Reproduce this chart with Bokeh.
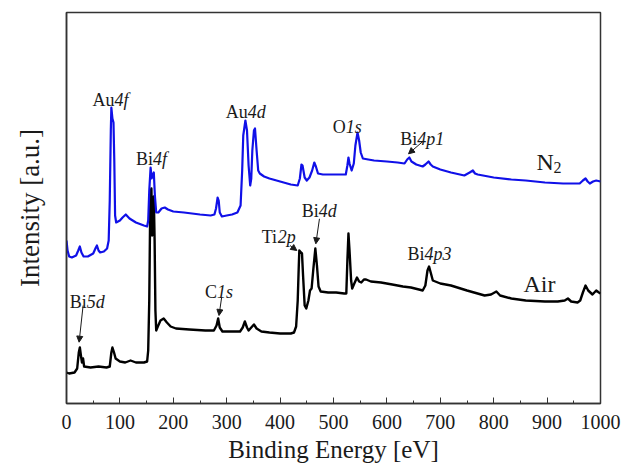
from bokeh.plotting import figure
from bokeh.models import Range1d, Label, Arrow, NormalHead, SingleIntervalTicker, FixedTicker
from bokeh.embed import file_html
from bokeh.resources import INLINE

# XPS survey spectra: binding energy (eV) and intensity (a.u.)
air_energy = [0, 5, 15, 20, 23, 25, 27, 29, 31, 33, 45, 60, 75, 81, 84, 86, 89, 92, 100, 110,
              120, 130, 145, 151, 153, 155, 157, 159, 160.5, 162, 163.5, 165, 166.5, 168, 171,
              176, 182, 188, 195, 205, 230, 260, 276, 281, 284, 287, 292, 310, 325, 330, 334,
              338, 341, 346, 351, 356, 365, 380, 400, 420, 426, 430, 433, 435, 436, 439, 441,
              443, 446, 449, 453, 456, 459, 462, 466, 469, 472, 476, 490, 505, 520, 524, 526,
              528, 530, 533, 535, 539, 544, 548, 552, 557, 561, 570, 589, 610, 630, 645, 660,
              667, 672, 676, 679, 682, 686, 700, 720, 750, 783, 795, 805, 812, 833, 860, 896,
              920, 933, 939, 945, 957, 962, 967, 972, 977, 985, 992, 997, 1000]
air_intensity = [31, 30, 31, 35, 51, 56, 48, 41, 45, 37, 36, 37, 36, 37, 51, 56, 51, 45, 42, 41,
                 43, 41, 41, 42, 53, 103, 208, 215, 168, 188, 207, 163, 93, 73, 77,
                 83, 85, 81, 77, 75, 74, 73, 73, 78, 85, 76, 72, 72, 72, 76, 82,
                 76, 73, 76, 79, 75, 72, 71, 70, 70, 71, 77, 103, 138, 153, 151, 150,
                 128, 98, 95, 103, 113, 115, 133, 155, 138, 117, 112, 111, 111, 110, 110, 143,
                 170, 153, 123, 115, 120, 126, 122, 121, 124, 124, 122, 121, 119, 117, 116, 114,
                 113, 118, 133, 137, 131, 123, 120, 118, 113, 108, 109, 112, 108, 105, 103, 102,
                 102, 103, 105, 102, 101, 103, 111, 118, 113, 109, 113, 111, 110]

n2_energy = [0, 2, 5, 10, 18, 22, 25, 28, 32, 40, 50, 55, 57, 60, 63, 70, 76, 79, 81, 83, 84,
             86, 88, 89.5, 91, 93, 100, 105, 111, 118, 130, 145, 151, 153, 155, 157.5, 159.5,
             161, 163.5, 165.5, 168, 172, 178, 184, 190, 200, 220, 250, 270, 277, 280, 283,
             285, 287, 291, 300, 310, 320, 326, 329, 331, 335, 338, 341, 344, 346, 348, 351,
             353, 356, 359, 362, 370, 380, 400, 420, 433, 437, 440, 442, 446, 450, 455, 460,
             464, 467, 471, 480, 500, 515, 523, 526, 528, 530, 534, 538, 541, 545, 548, 551,
             555, 565, 576, 600, 620, 633, 638, 642, 646, 655, 667, 672, 678, 682, 686, 700,
             720, 745, 755, 761, 765, 770, 800, 833, 860, 896, 930, 961, 967, 972, 976, 980,
             986, 992, 1000]
n2_intensity = [163, 153, 147, 146, 148, 153, 157, 151, 147, 147, 150, 156, 158, 153, 151, 152,
                155, 163, 203, 273, 296, 285, 281, 243, 188, 181, 183, 186, 189, 185, 181, 178,
                177, 183, 213, 236, 225, 228, 231, 208, 191, 191, 195, 196, 194, 192, 191, 189,
                188, 189, 195, 206, 203, 191, 187, 188, 189, 191, 198, 233, 268, 283, 273, 238,
                218, 225, 253, 273, 275, 253, 233, 230, 227, 225, 222, 219, 218, 225, 239, 238,
                226, 223, 226, 233, 241, 237, 230, 229, 229, 229, 229, 238, 246, 240, 233, 240,
                258, 271, 263, 251, 245, 244, 243, 242, 241, 240, 244, 246, 242, 239, 237, 239,
                242, 239, 237, 234, 231, 228, 231, 233, 230, 229, 226, 224, 223, 221, 220, 220,
                223, 225, 222, 220, 222, 223, 222]

# peak assignments: (plain part, italic part, x, baseline y, width of plain part in px)
peak_labels = [
    ("Au", "4f", 48.8, 304, 22),
    ("Bi", "4f", 130, 244.7, 17),
    ("Au", "4d", 298, 291.3, 22),
    ("O", "1s", 498.8, 276.3, 13),
    ("Bi", "4p1", 625, 264.7, 17),
    ("Ti", "2p", 365.6, 166.3, 16),
    ("Bi", "4d", 440.6, 193, 17),
    ("Bi", "4p3", 638.7, 149.7, 17),
    ("C", "1s", 259.3, 111.3, 12),
    ("Bi", "5d", 6.2, 101.3, 17),
]
# pointer arrows: (x_start, y_start, x_end, y_end)
pointers = [
    (665.7, 261.3, 640.5, 249.7),
    (418.5, 158, 431.3, 153),
    (473.7, 184.7, 466.9, 159.7),
    (290.6, 106.3, 285.6, 88),
    (31.1, 98, 23.6, 61.3),
]

FONT = "'Liberation Serif', 'Times New Roman', serif"
TEXT = "#1a1a1a"

p = figure(width=633, height=471, output_backend="svg", toolbar_location=None,
           x_range=Range1d(0, 1000), y_range=Range1d(0, 391),
           min_border_left=66, min_border_right=33, min_border_top=12, min_border_bottom=68)

p.line(air_energy, air_intensity, color="black", line_width=2.4, line_join="round")
p.line(n2_energy, n2_intensity, color="#1010e8", line_width=2.2, line_join="round")

p.grid.visible = False
p.outline_line_color = "#333333"
p.outline_line_width = 1.5

xa = p.xaxis[0]
xa.ticker = SingleIntervalTicker(interval=100, num_minor_ticks=2)
xa.major_tick_in = 6
xa.major_tick_out = 0
xa.minor_tick_in = 3
xa.minor_tick_out = 0
xa.axis_line_color = "#333333"
xa.axis_line_width = 1.5
xa.major_tick_line_color = "#333333"
xa.minor_tick_line_color = "#333333"
xa.major_label_text_font = FONT
xa.major_label_text_font_size = "20px"
xa.major_label_text_color = TEXT
xa.major_label_standoff = 11
xa.axis_label = "Binding Energy [eV]"
xa.axis_label_text_font = FONT
xa.axis_label_text_font_size = "25px"
xa.axis_label_text_font_style = "normal"
xa.axis_label_text_color = TEXT
xa.axis_label_standoff = 4

ya = p.yaxis[0]
ya.ticker = FixedTicker(ticks=[])
ya.major_label_standoff = 0
ya.major_tick_out = 0
ya.axis_line_color = "#333333"
ya.axis_line_width = 1.5
ya.axis_label = "Intensity [a.u.]"
ya.axis_label_text_font = FONT
ya.axis_label_text_font_size = "27px"
ya.axis_label_text_font_style = "normal"
ya.axis_label_text_color = TEXT
ya.axis_label_standoff = 22

for plain, ital, x, y, w in peak_labels:
    p.add_layout(Label(x=x, y=y, text=plain, text_font=FONT, text_font_size="18px",
                       text_color=TEXT, text_baseline="alphabetic", text_align="left"))
    p.add_layout(Label(x=x, y=y, x_offset=w, text=ital, text_font=FONT, text_font_size="18px",
                       text_font_style="italic", text_color=TEXT,
                       text_baseline="alphabetic", text_align="left"))

for x0, y0, x1, y1 in pointers:
    p.add_layout(Arrow(x_start=x0, y_start=y0, x_end=x1, y_end=y1, line_width=1,
                       line_color=TEXT,
                       end=NormalHead(size=6, fill_color=TEXT, line_color=TEXT)))

# sample labels
p.add_layout(Label(x=855.6, y=120, text="Air", text_font=FONT, text_font_size="24px",
                   text_color=TEXT, text_baseline="alphabetic"))
p.add_layout(Label(x=880, y=241.3, text="N", text_font=FONT, text_font_size="24px",
                   text_color=TEXT, text_baseline="alphabetic"))
p.add_layout(Label(x=880, y=241.3, x_offset=17, y_offset=-5, text="2", text_font=FONT,
                   text_font_size="16px", text_color=TEXT, text_baseline="alphabetic"))

open("out.html", "w").write(file_html(p, INLINE))
